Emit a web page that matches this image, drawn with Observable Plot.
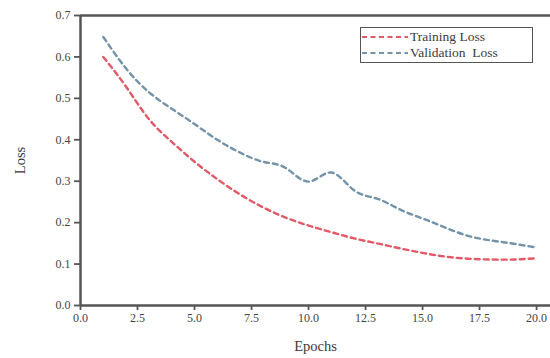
<!DOCTYPE html>
<html>
<head>
<meta charset="utf-8">
<script src="https://cdn.jsdelivr.net/npm/d3@7"></script>
<script src="https://cdn.jsdelivr.net/npm/@observablehq/plot@0.6"></script>
<style>
  html, body { margin: 0; padding: 0; background: #fff; }
  #wrap { position: relative; width: 550px; height: 358px; }
  #legend {
    position: absolute; left: 360px; top: 27px; width: 171px; height: 34px;
    border: 1.5px solid #555; background: #fff;
    font-family: "Liberation Serif", "DejaVu Serif", serif; font-size: 13.5px; color: #3a3a3a;
  }
  .row { position: absolute; left: 0; height: 16px; display: flex; align-items: center; }
  .row svg { margin-left: 1px; margin-right: 2px; }
</style>
</head>
<body>
<div id="wrap"></div>
<script>
const epochs = [1,2,3,4,5,6,7,8,9,10,11,12,13,14,15,16,17,18,19,20];
const trainingLoss = [0.600,0.528,0.450,0.395,0.347,0.305,0.268,0.237,0.212,0.193,0.177,0.162,0.150,0.138,0.127,0.118,0.113,0.111,0.111,0.114];
const validationLoss = [0.648,0.572,0.515,0.475,0.438,0.400,0.369,0.347,0.332,0.299,0.321,0.278,0.258,0.232,0.210,0.188,0.168,0.157,0.149,0.140];
const seriesNames = ["Training Loss", "Validation  Loss"];
const seriesColors = ["#e25a68", "#7593a8"];
const xTicks = [0,2.5,5,7.5,10,12.5,15,17.5,20];
const yTicks = [0,0.1,0.2,0.3,0.4,0.5,0.6,0.7];

const rows = [];
epochs.forEach((e, i) => {
  rows.push({epoch: e, loss: trainingLoss[i], series: seriesNames[0]});
  rows.push({epoch: e, loss: validationLoss[i], series: seriesNames[1]});
});

const axisColor = "#555";
const fmt = d3.format(".1f");

const chart = Plot.plot({
  width: 550,
  height: 358,
  marginLeft: 80,
  marginRight: 0,
  marginTop: 15,
  marginBottom: 53,
  style: {fontFamily: "'Liberation Serif', 'DejaVu Serif', serif", fontSize: "12px", color: "#444", background: "#fff"},
  x: {domain: [0, 20.61]},
  y: {domain: [0, 0.7]},
  color: {domain: seriesNames, range: seriesColors},
  marks: [
    Plot.axisX({ticks: xTicks, tickFormat: fmt, tickSize: 5, tickPadding: 3, stroke: axisColor, strokeWidth: 1.8,
      label: "Epochs", labelAnchor: "center", labelArrow: "none", labelOffset: 45, fontSize: 12}),
    Plot.axisY({ticks: yTicks, tickFormat: fmt, tickSize: 6, tickPadding: 4, stroke: axisColor, strokeWidth: 1.8,
      label: "Loss", labelAnchor: "center", labelArrow: "none", labelOffset: 66, fontSize: 12}),
    Plot.lineY(rows, {x: "epoch", y: "loss", stroke: "series", strokeWidth: 2.4, strokeDasharray: "5,4", curve: "natural"}),
    Plot.ruleX([0], {stroke: axisColor, strokeWidth: 2.5}),
    Plot.ruleY([0, 0.7], {stroke: axisColor, strokeWidth: 2.5})
  ]
});

d3.select(chart).selectAll("g[aria-label='x-axis label'] text, g[aria-label='y-axis label'] text")
  .style("font-size", "14.5px").attr("fill", "#3a3a3a");

const wrap = document.getElementById("wrap");
wrap.appendChild(chart);

const legend = document.createElement("div");
legend.id = "legend";
seriesNames.forEach((name, i) => {
  const r = document.createElement("div");
  r.className = "row";
  r.style.top = (1 + i * 16) + "px";
  r.innerHTML = `<svg width="46" height="6"><line x1="0" y1="3" x2="46" y2="3" stroke="${seriesColors[i]}" stroke-width="2" stroke-dasharray="5,3.5"/></svg><span>${name.replace(/ /g, "&nbsp;")}</span>`;
  legend.appendChild(r);
});
wrap.appendChild(legend);
</script>
</body>
</html>
